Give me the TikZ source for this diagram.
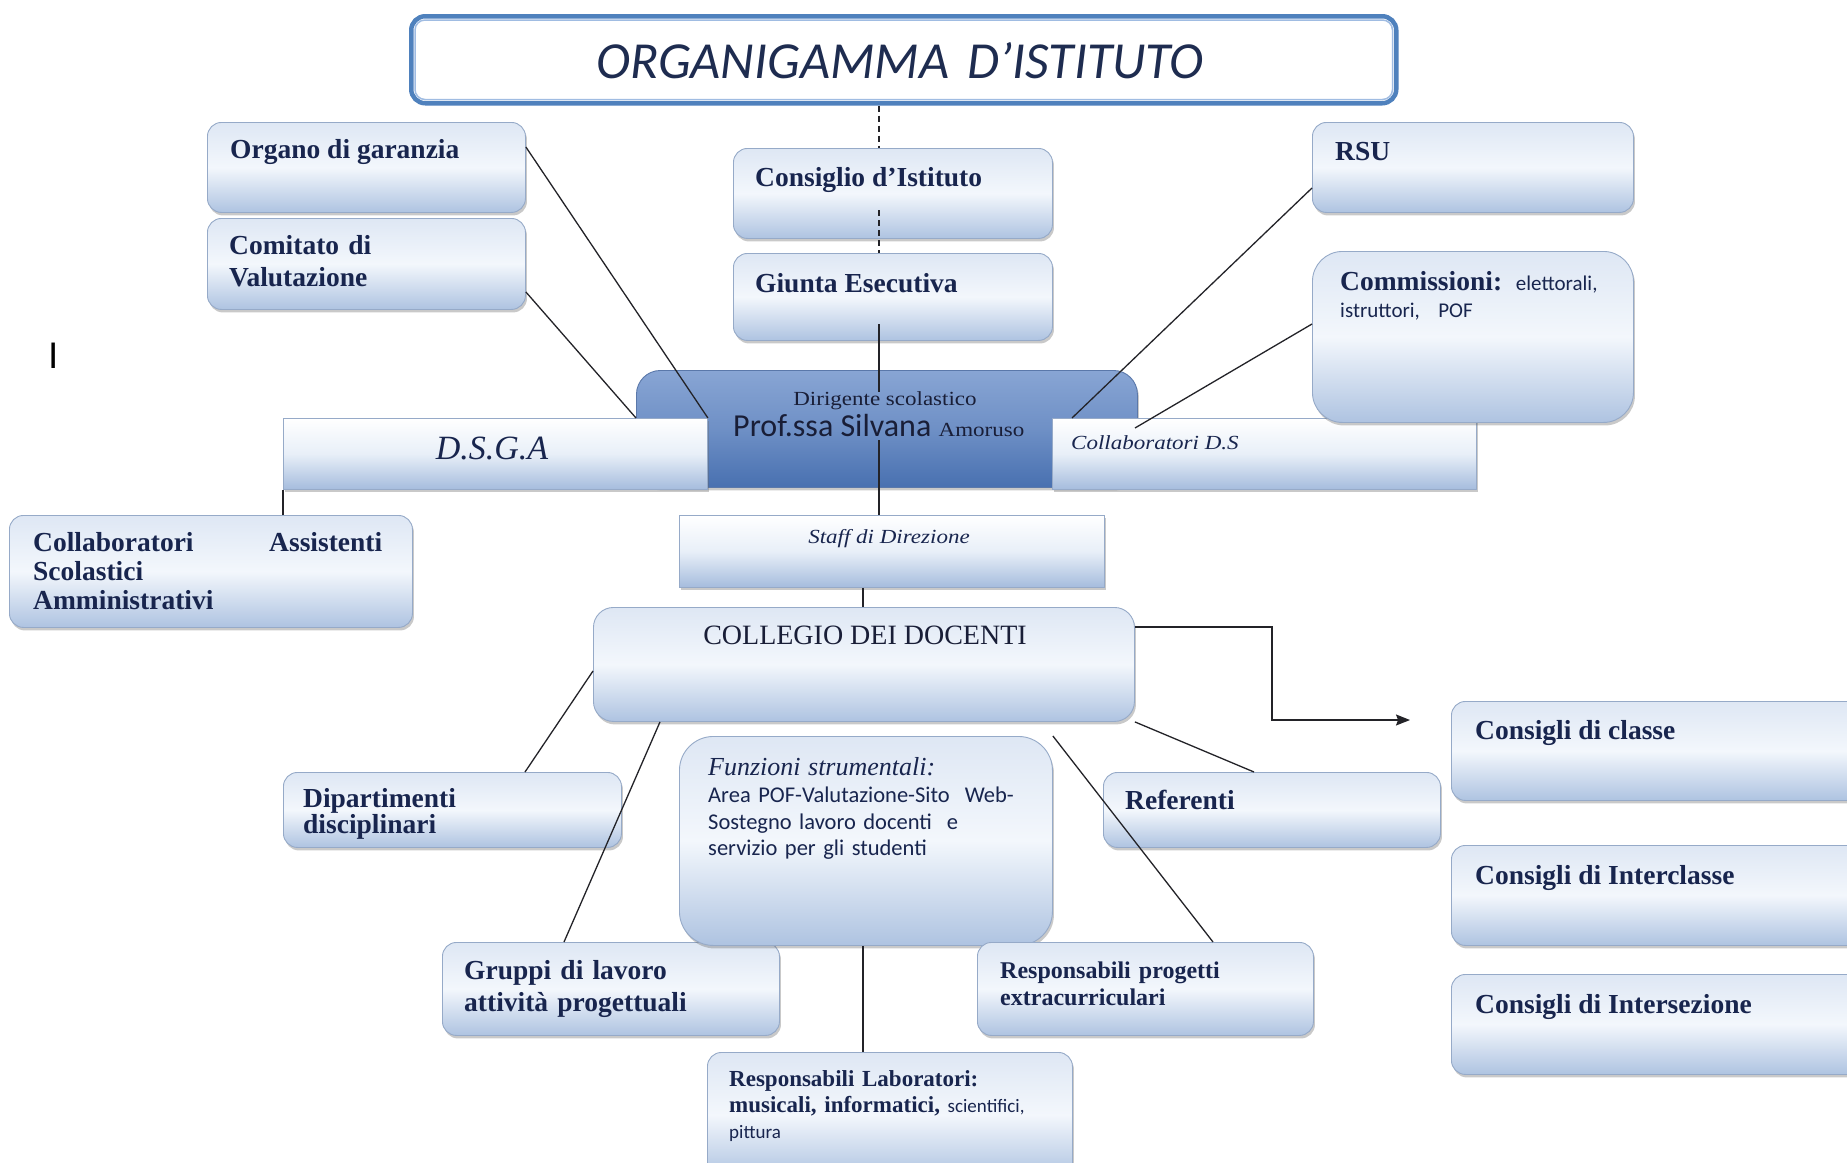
\documentclass[tikz,border=0pt]{standalone}
\usepackage{fontspec}
\setmainfont{Liberation Serif}
\newfontfamily\carlito{Carlito}
\newfontfamily\wideserif{Liberation Serif}[FakeStretch=1.15]
\newfontfamily\barfont{Liberation Sans}
\usetikzlibrary{shadows,arrows.meta}
\definecolor{navy}{RGB}{24,37,78}
\definecolor{titlenavy}{RGB}{30,44,80}
\definecolor{darktext}{RGB}{25,30,55}
\definecolor{boxtop}{RGB}{222,231,244}
\definecolor{boxmid}{RGB}{243,247,252}
\definecolor{boxbot}{RGB}{174,195,225}
\definecolor{boxedge}{RGB}{150,170,200}
\definecolor{sqmid}{RGB}{232,239,248}
\definecolor{sqbot}{RGB}{165,188,221}
\definecolor{dirtop}{RGB}{136,165,212}
\definecolor{dirbot}{RGB}{72,112,176}
\definecolor{diredge}{RGB}{90,120,170}
\definecolor{titleblue}{RGB}{79,129,189}
\definecolor{titleinner}{RGB}{160,188,226}
\definecolor{linec}{RGB}{35,35,40}
\tikzset{
  box/.style={anchor=north west, inner sep=0pt, draw=boxedge, line width=0.9pt,
    rounded corners=14pt, top color=boxtop, bottom color=boxbot, middle color=boxmid,
    drop shadow={shadow xshift=1.5pt, shadow yshift=-3pt, opacity=0.35, fill=black!60}},
  bigbox/.style={box, rounded corners=30pt},
  sqbox/.style={box, sharp corners, top color=white, bottom color=sqbot, middle color=sqmid},
  dirbox/.style={box, rounded corners=24pt, draw=diredge, top color=dirtop, bottom color=dirbot, middle color=dirtop!60!dirbot},
  titlebox/.style={anchor=north west, inner sep=0pt, draw=titleblue, line width=4.5pt,
    rounded corners=14pt, fill=white},
  titleinner/.style={draw=titleinner, line width=1.5pt, rounded corners=10pt},
  conn/.style={draw=linec, line width=1.3pt},
  dashconn/.style={conn, dash pattern=on 6pt off 4pt},
  lbl/.style={anchor=base west, inner sep=0pt, text=navy, font=\bfseries\fontsize{27.5}{32}\selectfont},
  mlbl/.style={lbl, text width=330pt, align=left},
}
\begin{document}
\begin{tikzpicture}[x=1pt,y=-1pt]
\useasboundingbox (0,0) rectangle (1847,1162);
\clip (0,0) rectangle (1847,1162);
\fill[white] (0,0) rectangle (1847,1162);

% ---------- title ----------
\node[titlebox, minimum width=985pt, minimum height=87pt] (title) at (409,14) {};
\draw[titleinner] ([xshift=6pt,yshift=-6pt]title.north west) rectangle ([xshift=-6pt,yshift=6pt]title.south east);
\node[anchor=base, inner sep=0pt, text=titlenavy, font=\carlito\itshape\fontsize{52}{60}\selectfont] (titletext) at (900,78) {ORGANIGAMMA\hspace{18pt}D’ISTITUTO};

% ---------- boxes ----------
\node[box, minimum width=318pt, minimum height=90pt] (organo) at (207,122) {};
\node[box, minimum width=318pt, minimum height=91pt] (comitato) at (207,218) {};
\node[box, minimum width=319pt, minimum height=90pt] (consiglio) at (733,148) {};
\node[box, minimum width=319pt, minimum height=87pt] (giunta) at (733,253) {};
\node[box, minimum width=321pt, minimum height=90pt] (rsu) at (1312,122) {};
\node[dirbox, minimum width=501pt, minimum height=117pt] (dirigente) at (636,370) {};
\node[sqbox, minimum width=424pt, minimum height=71pt] (dsga) at (283,418) {};
\node[sqbox, minimum width=424pt, minimum height=71pt] (collabds) at (1052,418) {};
\node[bigbox, minimum width=321pt, minimum height=171pt] (commissioni) at (1312,251) {};
\node[box, minimum width=403pt, minimum height=112pt] (collabscol) at (9,515) {};
\node[sqbox, minimum width=425pt, minimum height=72pt] (staff) at (679,515) {};
\node[box, rounded corners=20pt, minimum width=541pt, minimum height=114pt] (collegio) at (593,607) {};
\node[box, minimum width=338pt, minimum height=75pt] (dipartimenti) at (283,772) {};
\node[box, minimum width=337pt, minimum height=75pt] (referenti) at (1103,772) {};
\node[box, minimum width=337pt, minimum height=93pt] (gruppi) at (442,942) {};
\node[bigbox, rounded corners=34pt, minimum width=373pt, minimum height=209pt] (funzioni) at (679,736) {};
\node[box, minimum width=336pt, minimum height=93pt] (progetti) at (977,942) {};
\node[box, minimum width=365pt, minimum height=125pt] (lab) at (707,1052) {};
\node[box, minimum width=420pt, minimum height=99pt] (classe) at (1451,701) {};
\node[box, minimum width=420pt, minimum height=100pt] (interclasse) at (1451,845) {};
\node[box, minimum width=420pt, minimum height=100pt] (intersezione) at (1451,974) {};

% ---------- connectors ----------
\coordinate (sp1) at (879,210);
\coordinate (sp2) at (879,324);
\coordinate (sp3) at (879,392);
\coordinate (sp4) at (879,440);
\coordinate (colx) at (863,0);
\draw[dashconn] (title.south -| sp1) -- (consiglio.north -| sp1);
\draw[dashconn] (sp1) -- (giunta.north -| sp1);
\draw[conn] (sp2) -- (sp3);
\draw[conn] (sp4) -- (staff.north -| sp4);
\draw[conn] ([yshift=-25pt]organo.north east) -- (dsga.north east);
\draw[conn] ([yshift=-74pt]comitato.north east) -- (dirigente.west |- dsga.north);
\draw[conn] ([yshift=-66pt]rsu.north west) -- ([xshift=20pt]collabds.north west);
\coordinate (cds) at (1135,428);
\draw[conn] ([yshift=-73pt]commissioni.north west) -- (cds);
\draw[conn] (dsga.south west) -- (dsga.south west |- collabscol.north);
\draw[conn] (staff.south -| colx) -- (collegio.north -| colx);
\coordinate (bendpt) at (1272,720);
\coordinate (arrowend) at (1410,720);
\draw[conn, -{Stealth[length=14pt,width=11pt,inset=2pt]}] ([yshift=-20pt]collegio.north east) -| (bendpt) -- (arrowend);
\draw[conn] ([yshift=-64pt]collegio.north west) -- ([xshift=242pt]dipartimenti.north west);
\draw[conn] ([xshift=67pt]collegio.south west) -- ([xshift=122pt]gruppi.north west);
\draw[conn] (collegio.south east) -- ([xshift=151pt]referenti.north west);
\draw[conn] (funzioni.north east) -- ([xshift=236pt]progetti.north west);
\draw[conn] (funzioni.south -| colx) -- (lab.north -| colx);

% ---------- texts ----------
\node[lbl] (organo-t) at (230,158) {Organo di garanzia};
\node[mlbl] (comitato-t) at (229,254) {Comitato di\\Valutazione};
\node[lbl] (consiglio-t) at (755,186) {Consiglio d’Istituto};
\node[lbl] (giunta-t) at (755,292) {Giunta Esecutiva};
\node[lbl] (rsu-t) at (1335,160) {RSU};
\node[mlbl, font=\bfseries\fontsize{27.5}{27}\selectfont] (commissioni-t) at (1340,290)
  {Commissioni: {\mdseries\carlito\fontsize{21}{27}\selectfont elettorali,}\\{\mdseries\carlito\fontsize{21}{27}\selectfont istruttori, \ POF}};
\node[anchor=base, inner sep=0pt, text=darktext, font=\wideserif\fontsize{20}{24}\selectfont] (dir-t1) at (885,405) {Dirigente scolastico};
\node[anchor=base west, inner sep=0pt, text=darktext, font=\carlito\fontsize{32}{36}\selectfont] (dir-t2) at (733,436)
  {Prof.ssa Silvana {\wideserif\fontsize{20}{24}\selectfont Amoruso}};
\node[anchor=base, inner sep=0pt, text=navy, font=\itshape\fontsize{34}{40}\selectfont] (dsga-t) at (492,459) {D.S.G.A};
\node[anchor=base west, inner sep=0pt, text=navy, font=\wideserif\itshape\fontsize{20}{24}\selectfont] (collabds-t) at (1071,449) {Collaboratori D.S};
\node[mlbl, font=\bfseries\fontsize{27.5}{29}\selectfont] (collabscol-t) at (33,551) {Collaboratori\\Scolastici\\Amministrativi};
\node[lbl] (assistenti-t) at (269,551) {Assistenti};
\node[anchor=base, inner sep=0pt, text=navy, font=\wideserif\itshape\fontsize{20}{24}\selectfont] (staff-t) at (889,543) {Staff di Direzione};
\node[anchor=base, inner sep=0pt, text=darktext, font=\fontsize{28}{32}\selectfont] (collegio-t) at (865,644) {COLLEGIO DEI DOCENTI};
\node[mlbl, font=\bfseries\fontsize{27.5}{26}\selectfont] (dipartimenti-t) at (303,807) {Dipartimenti\\disciplinari};
\node[anchor=base west, inner sep=0pt, text width=345pt, align=left, text=navy, font=\carlito\fontsize{22.5}{26.5}\selectfont] (funzioni-t) at (708,775)
  {{\rmfamily\itshape\fontsize{26}{28}\selectfont Funzioni strumentali:}\\[1pt]Area POF-Valutazione-Sito \ Web-\\Sostegno lavoro docenti \ e\\servizio per gli studenti};
\node[lbl] (referenti-t) at (1125,809) {Referenti};
\node[mlbl] (gruppi-t) at (464,979) {Gruppi di lavoro\\attività progettuali};
\node[mlbl, font=\bfseries\fontsize{24}{27}\selectfont] (progetti-t) at (1000,978) {Responsabili progetti\\extracurriculari};
\node[mlbl, text width=345pt, font=\bfseries\fontsize{23}{26}\selectfont] (lab-t) at (729,1086)
  {Responsabili Laboratori:\\musicali, informatici, {\mdseries\carlito\fontsize{19}{24}\selectfont scientifici,}\\{\mdseries\carlito\fontsize{19}{24}\selectfont pittura}};
\node[lbl] (classe-t) at (1475,739) {Consigli di classe};
\node[lbl] (interclasse-t) at (1475,884) {Consigli di Interclasse};
\node[lbl] (intersezione-t) at (1475,1013) {Consigli di Intersezione};
\node[anchor=base west, inner sep=0pt, text=black, font=\barfont\fontsize{37}{40}\selectfont] (bar-t) at (48,368) {I};
\end{tikzpicture}
\end{document}
